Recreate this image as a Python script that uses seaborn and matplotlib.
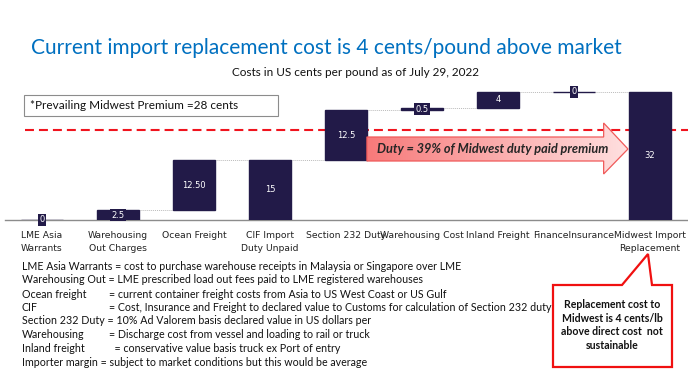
import matplotlib
matplotlib.use("Agg")
import matplotlib.pyplot as plt
import numpy as np
import seaborn as sns
from matplotlib.patches import Polygon, Rectangle

# ---------------- data ----------------
categories = ["LME Asia\nWarrants", "Warehousing\nOut Charges", "Ocean Freight",
              "CIF Import\nDuty Unpaid", "Section 232 Duty", "Warehousing Cost",
              "Inland Freight", "FinanceInsurance", "Midwest Import\nReplacement"]
values = [0, 2.5, 12.5, 15, 12.5, 0.5, 4, 0, 32]
is_total = [False, False, False, True, False, False, False, False, True]
value_labels = ["0", "2.5", "12.50", "15", "12.5", "0.5", "4", "0", "32"]
premium_line = 22.5

title = "Current import replacement cost is 4 cents/pound above market"
subtitle = "Costs in US cents per pound as of July 29, 2022"
premium_note = "*Prevailing Midwest Premium =28 cents"
arrow_text = "Duty = 39% of Midwest duty paid premium"
callout_text = "Replacement cost to\nMidwest is 4 cents/lb\nabove direct cost  not\nsustainable"
note_lines = [
    ("LME Asia Warrants = cost to purchase warehouse receipts in Malaysia or Singapore over LME", None),
    ("Warehousing Out = LME prescribed load out fees paid to LME registered warehouses", None),
    ("Ocean freight", "= current container freight costs from Asia to US West Coast or US Gulf"),
    ("CIF", "= Cost, Insurance and Freight to declared value to Customs for calculation of Section 232 duty"),
    ("Section 232 Duty = 10% Ad Valorem basis declared value in US dollars per", None),
    ("Warehousing", "= Discharge cost from vessel and loading to rail or truck"),
    ("Inland freight", "  = conservative value basis truck ex Port of entry"),
    ("Importer margin = subject to market conditions but this would be average", None),
]

# waterfall bottoms / running totals
bottoms, ends = [], []
running = 0.0
for v, tot in zip(values, is_total):
    if tot:
        bottoms.append(0.0)
        running = v
    else:
        bottoms.append(running)
        running += v
    ends.append(running)

NAVY = "#221A48"
W, H = 688, 387
TXT = ["Lato", "DejaVu Sans"]

sns.set_theme(style="white")
plt.rcParams["font.family"] = ["DejaVu Sans"]

fig = plt.figure(figsize=(W / 100, H / 100), dpi=100)
fig.patch.set_facecolor("white")


def fx(x):
    return x / W


def fy(y):
    return 1 - y / H


ax = fig.add_axes([fx(5), fy(220), (683) / W, 140 / H])
ax.set_facecolor("white")

sns.barplot(x=categories, y=values, bottom=bottoms, color=NAVY, saturation=1,
            width=0.55, errorbar=None, edgecolor=NAVY, linewidth=1.0, ax=ax, zorder=3)

ax.set_xlim(-0.487, 8.5)
ax.set_ylim(0, 35)

for s in ["top", "right", "left"]:
    ax.spines[s].set_visible(False)
ax.spines["bottom"].set_color("#8C8C8C")
ax.spines["bottom"].set_linewidth(1.0)
ax.spines["bottom"].set_zorder(2)
ax.set_yticks([])
ax.set_xlabel("")
ax.set_ylabel("")
ax.tick_params(axis="x", length=0, pad=8, labelsize=6.7, labelcolor="#222222")
for lab in ax.get_xticklabels():
    lab.set_linespacing(1.6)

# connectors
w = 0.55
for i in range(len(values) - 1):
    ax.plot([i + w / 2, i + 1 - w / 2], [ends[i], ends[i]], color="#BBBBBB",
            lw=0.7, ls=(0, (1, 1)), zorder=1)

# bar labels
ax.bar_label(ax.containers[0], labels=value_labels, label_type="center",
             color="white", fontsize=6, fontweight="normal",
             bbox=dict(boxstyle="square,pad=0.15", fc=NAVY, ec="none"), zorder=5)

# dashed red premium line
ax.plot([-0.22, 8.5], [premium_line, premium_line], color="#F0141E", lw=1.5,
        dashes=(4.3, 2.4), zorder=2, clip_on=False)

# gradient arrow (data coords)
x0 = 4 + w / 2
x_head = 7.39
x_tip = 7.71
body_lo, body_hi = 14.75, 20.75
head_lo, head_hi = 11.5, 24.25
mid = (body_lo + body_hi) / 2
verts = [(x0, body_lo), (x_head, body_lo), (x_head, head_lo), (x_tip, mid),
         (x_head, head_hi), (x_head, body_hi), (x0, body_hi)]
arrow = Polygon(verts, closed=True, fc="none", ec="#F05A5A", lw=0.9, zorder=4)
ax.add_patch(arrow)
c_left = np.array([247, 122, 122]) / 255
c_right = np.array([255, 224, 224]) / 255
t = np.linspace(0, 1, 256)
grad = (c_left[None, :] * (1 - t[:, None]) + c_right[None, :] * t[:, None])[None, :, :]
im = ax.imshow(grad, extent=[x0, x_tip, head_lo, head_hi], aspect="auto",
               zorder=3.5, interpolation="bilinear")
clip = Polygon(verts, closed=True, transform=ax.transData)
im.set_clip_path(clip)
ax.set_xlim(-0.487, 8.5)
ax.set_ylim(0, 35)
ax.text(5.93, 17.75, arrow_text, ha="center", va="center", fontsize=9.2,
        fontweight="bold", fontstyle="italic", color="#262626",
        family=TXT, zorder=6)

# title & subtitle
fig.text(fx(326), fy(48), title, ha="center", va="center", fontsize=15.0,
         color="#0070C0", family=TXT, fontweight="normal")
fig.text(fx(355), fy(72), subtitle, ha="center", va="center", fontsize=8.5,
         color="#111111", family=TXT)

# premium note box
fig.add_artist(Rectangle((fx(24), fy(116)), (278 - 24) / W, (116 - 95) / H,
                         transform=fig.transFigure, fc="white", ec="#8C8C8C", lw=0.8))
fig.text(fx(30), fy(105.5), premium_note, ha="left", va="center", fontsize=8.5,
         color="#111111", family=TXT)

# notes
y_lines = [266, 279.5, 294, 307.5, 321, 335, 348.5, 362]
for (left, right), yy in zip(note_lines, y_lines):
    fig.text(fx(22), fy(yy), left, ha="left", va="center", fontsize=7.7,
             color="#111111", family=TXT)
    if right is not None:
        fig.text(fx(109), fy(yy), right, ha="left", va="center", fontsize=7.7,
                 color="#111111", family=TXT)

# callout
cverts = [(553, 285), (622, 285), (648, 254), (652, 285), (672, 285),
          (672, 367), (553, 367)]
fig.add_artist(Polygon([(fx(a), fy(b)) for a, b in cverts], closed=True,
                       transform=fig.transFigure, fc="white", ec="#F01010", lw=1.6))
fig.text(fx(612), fy(325), callout_text, ha="center", va="center", fontsize=7.6,
         fontweight="bold", color="#111111", linespacing=1.3, family=TXT)

fig.savefig("out.png", dpi=100, facecolor="white")
